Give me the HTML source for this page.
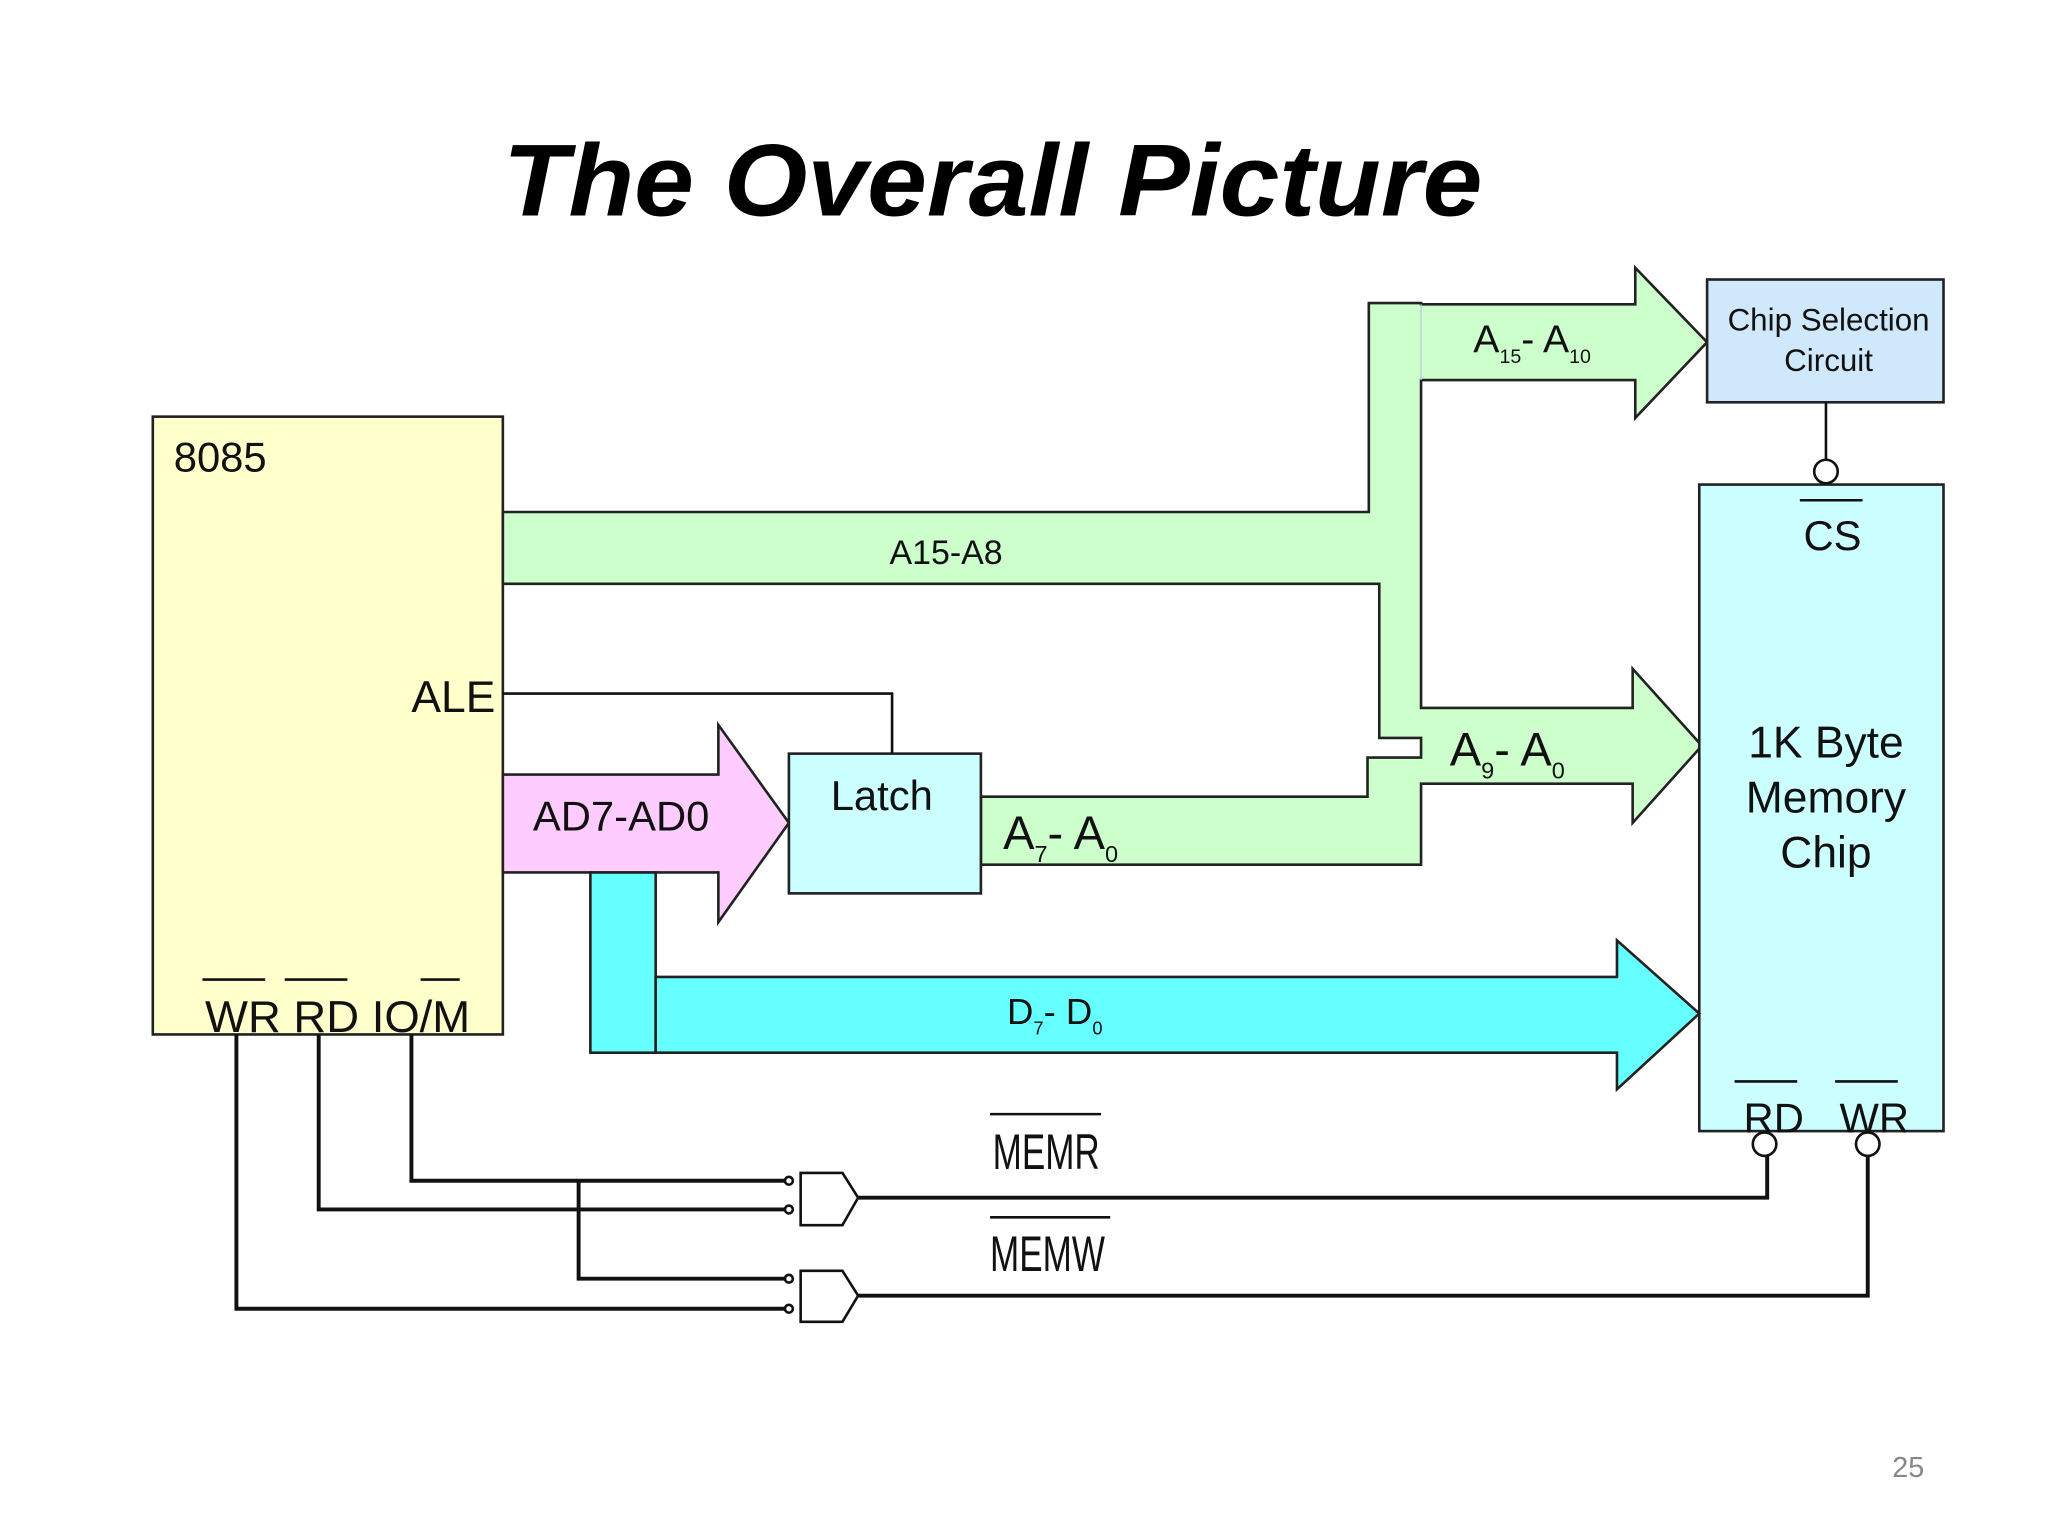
<!DOCTYPE html>
<html><head><meta charset="utf-8"><style>html,body{margin:0;padding:0;background:#fff}svg{display:block}</style></head>
<body>
<svg width="2048" height="1536" viewBox="0 0 1568 1176" xmlns="http://www.w3.org/2000/svg" font-family="Liberation Sans, sans-serif">
<rect width="1568" height="1176" fill="#fff"/>
<text x="760" y="165" text-anchor="middle" font-size="78" font-weight="bold" font-style="italic" textLength="750" lengthAdjust="spacingAndGlyphs">The Overall Picture</text>

<g stroke="#222" stroke-width="2">
<rect x="117" y="319" width="268" height="473" fill="#ffffcc"/>
<polygon points="385,392 1048,392 1048,232 1088,232 1088,233 1252,233 1252,205 1307,262 1252,320 1252,291 1088,291 1088,542 1250,542 1250,512 1303,571 1250,630 1250,600 1088,600 1088,662 751,662 751,610 1047,610 1047,580 1088,580 1088,565 1056,565 1056,447 385,447" fill="#ccffcc"/>
<rect x="1307" y="214" width="181" height="94" fill="#cfe8fb"/>
<rect x="1301" y="371" width="187" height="495" fill="#ccffff"/>
<polygon points="385,593 550,593 550,555 604,630 550,706 550,668 385,668" fill="#ffccff"/>
<rect x="604" y="577" width="147" height="107" fill="#ccffff"/>
<rect x="452" y="668" width="50" height="138" fill="#66ffff"/>
<polygon points="502,748 1238,748 1238,720 1301,776 1238,834 1238,806 502,806" fill="#66ffff"/>
</g>
<line x1="1088" y1="233" x2="1088" y2="291" stroke="#bcd" stroke-width="1"/>

<g stroke="#111" stroke-width="2" fill="none">
<polyline points="385,531 683,531 683,577"/>
<line x1="1398" y1="308" x2="1398" y2="352"/>
<circle cx="1398" cy="361" r="9" fill="#fff"/>
<circle cx="1351" cy="876" r="9" fill="#fff"/>
<circle cx="1430" cy="876" r="9" fill="#fff"/>
<line x1="1378" y1="383" x2="1426" y2="383"/>
<line x1="1328" y1="828" x2="1376" y2="828"/>
<line x1="1405" y1="828" x2="1453" y2="828"/>
<line x1="155" y1="750" x2="203" y2="750"/>
<line x1="218" y1="750" x2="266" y2="750"/>
<line x1="322" y1="750" x2="352" y2="750"/>
<line x1="758" y1="853" x2="843" y2="853"/>
<line x1="758" y1="932" x2="850" y2="932"/>
</g>
<g stroke="#111" stroke-width="3" fill="none">
<polyline points="181,792 181,1002 604,1002"/>
<polyline points="244,792 244,926 604,926"/>
<polyline points="315,792 315,904 604,904"/>
<polyline points="443,904 443,979 604,979"/>
<polyline points="657,917 1353,917 1353,885"/>
<polyline points="657,992 1430,992 1430,885"/>
</g>
<g stroke="#111" stroke-width="2" fill="#fff">
<path d="M613,898 H645 L657,917 L645,938 H613 Z"/>
<path d="M613,973 H645 L657,992 L645,1012 H613 Z"/>
<circle cx="604" cy="904" r="3"/><circle cx="604" cy="926" r="3"/>
<circle cx="604" cy="979" r="3"/><circle cx="604" cy="1002" r="3"/>
</g>

<g fill="#111">
<text x="133" y="361" font-size="32">8085</text>
<text x="315" y="545" font-size="34">ALE</text>
<text x="408" y="636" font-size="32">AD7-AD0</text>
<text x="636" y="620" font-size="32">Latch</text>
<text x="681" y="432" font-size="26">A15-A8</text>
<text x="768" y="650" font-size="36">A<tspan font-size="18" dy="10">7</tspan><tspan dy="-10">- A</tspan><tspan font-size="18" dy="10">0</tspan></text>
<text x="1110" y="586" font-size="36">A<tspan font-size="18" dy="10">9</tspan><tspan dy="-10">- A</tspan><tspan font-size="18" dy="10">0</tspan></text>
<text x="1128" y="270" font-size="30">A<tspan font-size="15" dy="8">15</tspan><tspan dy="-8">- A</tspan><tspan font-size="15" dy="8">10</tspan></text>
<text x="771" y="784" font-size="28">D<tspan font-size="14" dy="8">7</tspan><tspan dy="-8">- D</tspan><tspan font-size="14" dy="8">0</tspan></text>
<text x="1400" y="253" font-size="24" text-anchor="middle">Chip Selection</text>
<text x="1400" y="284" font-size="24" text-anchor="middle">Circuit</text>
<text x="1403" y="421" font-size="32" text-anchor="middle">CS</text>
<text x="1398" y="580" font-size="34" text-anchor="middle">1K Byte</text>
<text x="1398" y="622" font-size="34" text-anchor="middle">Memory</text>
<text x="1398" y="664" font-size="34" text-anchor="middle">Chip</text>
<text x="1358" y="867" font-size="32" text-anchor="middle">RD</text>
<text x="1435" y="867" font-size="32" text-anchor="middle">WR</text>
<text x="157" y="790" font-size="34" textLength="203" lengthAdjust="spacingAndGlyphs">WR RD IO/M</text>
<text x="760" y="895" font-size="38" textLength="82" lengthAdjust="spacingAndGlyphs">MEMR</text>
<text x="758" y="973" font-size="38" textLength="88" lengthAdjust="spacingAndGlyphs">MEMW</text>
<text x="1461" y="1131" font-size="22" fill="#888" text-anchor="middle">25</text>
</g>
</svg>
</body></html>
